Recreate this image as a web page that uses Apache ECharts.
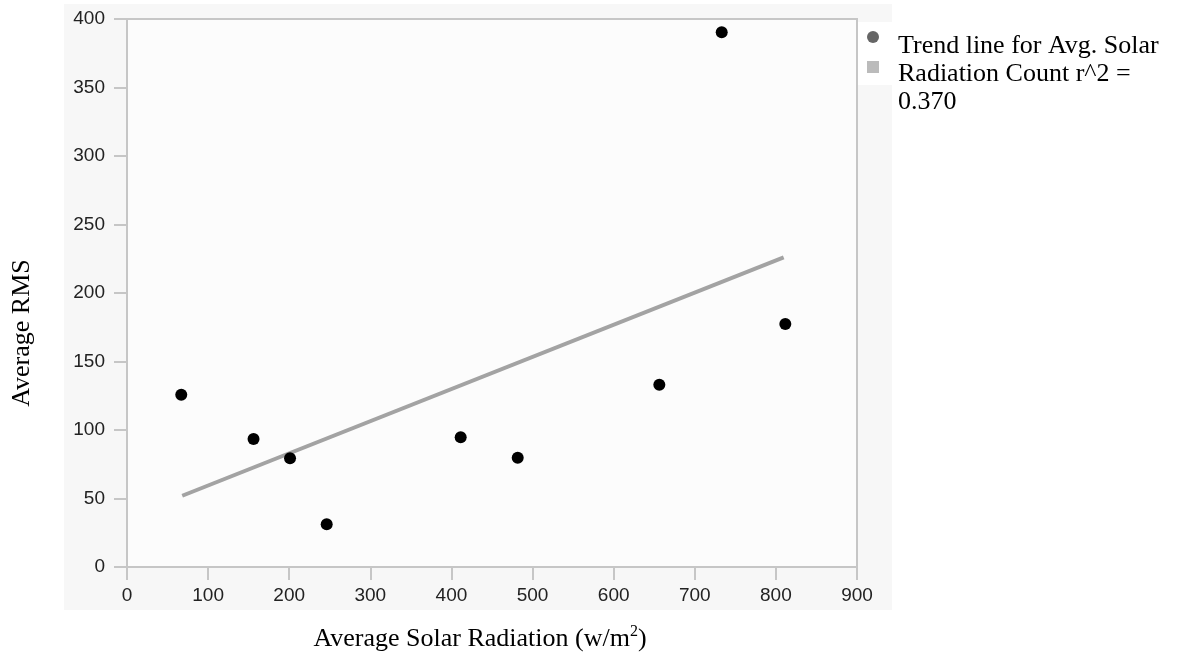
<!DOCTYPE html>
<html>
<head>
<meta charset="utf-8">
<script src="https://cdn.jsdelivr.net/npm/echarts@6/dist/echarts.min.js"></script>
<style>html,body{margin:0;padding:0;background:#fff;}#c{width:1186px;height:658px;}</style>
</head>
<body>
<div id="c"></div>
<script>
const solarRadiation = [66.9, 156.0, 201.0, 246.2, 411.4, 481.7, 656.3, 733.2, 811.6];
const avgRMS = [125.8, 93.4, 79.3, 31.2, 94.7, 79.8, 133.0, 390.3, 177.3];
const trendX = [68.1, 809.6];
const trendY = [52.0, 226.0];
const legendText = ['Trend line for Avg. Solar', 'Radiation Count r^2 =', '0.370'];
const xTitle = 'Average Solar Radiation (w/m{sup|2})';
const yTitle = 'Average RMS';

const chart = echarts.init(document.getElementById('c'));
const axisColor = '#c6c6c6';
const serif = '"Liberation Serif", "Times New Roman", serif';
chart.setOption({
  backgroundColor: '#ffffff',
  animation: false,
  graphic: [
    {type: 'rect', z: -10, shape: {x: 64, y: 4, width: 828, height: 606}, style: {fill: '#f7f7f7'}},
    {type: 'rect', z: 5, shape: {x: 858, y: 22, width: 34, height: 63}, style: {fill: '#ffffff'}},
    {type: 'circle', z: 6, shape: {cx: 873, cy: 37, r: 6}, style: {fill: '#666666'}},
    {type: 'rect', z: 6, shape: {x: 867, y: 61, width: 12, height: 12}, style: {fill: '#bbbbbb'}},
    {type: 'text', z: 6, left: 898, top: 32, style: {text: legendText.join('\n'), fontFamily: serif, fontSize: 26, fill: '#000', lineHeight: 28}},
    {type: 'text', z: 6, x: 480, y: 639, style: {text: xTitle, fontFamily: serif, fontSize: 26, fill: '#000', align: 'center', verticalAlign: 'middle',
      rich: {sup: {fontFamily: serif, fontSize: 16, fill: '#000', verticalAlign: 'top', padding: [0, 0, 14, 0]}}}},
    {type: 'text', z: 6, x: 22, y: 333, rotation: Math.PI / 2, style: {text: yTitle, fontFamily: serif, fontSize: 26, fill: '#000', align: 'center', verticalAlign: 'middle'}}
  ],
  grid: {left: 127, right: 1186 - 857, top: 19, bottom: 658 - 567, show: true, backgroundColor: '#fcfcfc', borderColor: axisColor, borderWidth: 2},
  xAxis: {
    type: 'value', min: 0, max: 900, interval: 100,
    axisLine: {show: true, lineStyle: {color: axisColor, width: 2}},
    axisTick: {show: true, length: 13, lineStyle: {color: axisColor, width: 2}},
    axisLabel: {fontFamily: 'Liberation Sans', fontSize: 19, color: '#222', margin: 19},
    splitLine: {show: false}
  },
  yAxis: {
    type: 'value', min: 0, max: 400, interval: 50,
    axisLine: {show: true, lineStyle: {color: axisColor, width: 2}},
    axisTick: {show: true, length: 13, lineStyle: {color: axisColor, width: 2}},
    axisLabel: {fontFamily: 'Liberation Sans', fontSize: 19, color: '#222', margin: 22},
    splitLine: {show: false}
  },
  series: [
    {type: 'line', data: trendX.map((x, i) => [x, trendY[i]]), showSymbol: false, symbol: 'none',
     lineStyle: {color: '#a3a3a3', width: 4}, z: 2},
    {type: 'scatter', data: solarRadiation.map((x, i) => [x, avgRMS[i]]), symbol: 'circle', symbolSize: 12,
     itemStyle: {color: '#000000', opacity: 1}, z: 3}
  ]
});
</script>
</body>
</html>
